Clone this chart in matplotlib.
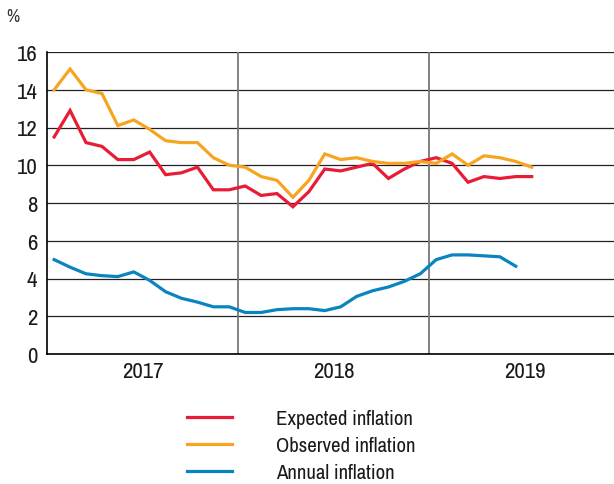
import matplotlib
matplotlib.use("Agg")
import matplotlib.pyplot as plt
from matplotlib import font_manager as fm

names = {f.name for f in fm.fontManager.ttflist}
FONT = next((n for n in ["Archivo Narrow", "Roboto Condensed", "Barlow Semi Condensed",
                         "Liberation Sans Narrow"] if n in names), "DejaVu Sans")
plt.rcParams['font.family'] = [FONT, 'DejaVu Sans']

years = ["2017", "2018", "2019"]
expected = [11.5, 12.9, 11.2, 11.0, 10.3, 10.3, 10.7, 9.5, 9.6, 9.9, 8.7, 8.7,
            8.9, 8.4, 8.5, 7.8, 8.6, 9.8, 9.7, 9.9, 10.1, 9.3, 9.8, 10.2,
            10.4, 10.1, 9.1, 9.4, 9.3, 9.4, 9.4]
observed = [14.0, 15.1, 14.0, 13.8, 12.1, 12.4, 11.9, 11.3, 11.2, 11.2, 10.4, 10.0,
            9.9, 9.4, 9.2, 8.3, 9.2, 10.6, 10.3, 10.4, 10.2, 10.1, 10.1, 10.2,
            10.1, 10.6, 10.0, 10.5, 10.4, 10.2, 9.9]
annual = [5.0, 4.6, 4.25, 4.15, 4.1, 4.35, 3.9, 3.3, 2.95, 2.75, 2.5, 2.5,
          2.2, 2.2, 2.35, 2.4, 2.4, 2.3, 2.5, 3.05, 3.35, 3.55, 3.85, 4.25,
          5.0, 5.25, 5.25, 5.2, 5.15, 4.65]
labels = ["Expected inflation", "Observed inflation", "Annual inflation"]
colors = ["#E71D36", "#F7A520", "#0A84BE"]
yticks = [0, 2, 4, 6, 8, 10, 12, 14, 16]

W, H = 614, 485
fig = plt.figure(figsize=(W / 100, H / 100), dpi=100)
ax = fig.add_axes([47 / W, 1 - 355 / H, 1 - 47 / W, (355 - 53) / H])

off = 0.45
for vals, lab, col in zip([expected, observed, annual], labels, colors):
    xs = [i + off for i in range(len(vals))]
    ax.plot(xs, vals, color=col, lw=2.3, label=lab, solid_joinstyle='miter', zorder=3)

ax.set_ylim(0, 16)
ax.set_xlim(0, 35.62)
ax.set_yticks(yticks)
ax.set_yticklabels([str(t) for t in yticks], fontsize=16.5, color='#1a1a1a')
ax.yaxis.grid(True, color='#222222', lw=0.9)
ax.set_axisbelow(True)
ax.set_xticks([6 + 12 * i for i in range(len(years))])
ax.set_xticklabels(years, fontsize=16.5, color='#1a1a1a')
ax.tick_params(axis='both', length=0)
ax.tick_params(axis='y', pad=7)
ax.tick_params(axis='x', pad=5)
for k in range(1, len(years)):
    ax.axvline(12 * k, color='#777777', lw=1.3, zorder=1)
for s in ['top', 'right']:
    ax.spines[s].set_visible(False)
ax.spines['left'].set_color('black')
ax.spines['bottom'].set_color('black')
ax.spines['left'].set_linewidth(1.2)
ax.spines['bottom'].set_linewidth(1.2)

fig.text(13 / W, 1 - 17 / H, '%', ha='center', va='center', fontsize=13, color='#333333')

leg = fig.legend(loc='upper left', bbox_to_anchor=(179 / W, 1 - 402 / H),
                 frameon=False, fontsize=15, handlelength=2.15, handletextpad=2.1,
                 labelspacing=0.38, borderaxespad=0)
for t in leg.get_texts():
    t.set_color('#1a1a1a')

fig.savefig('out.png', dpi=100)
